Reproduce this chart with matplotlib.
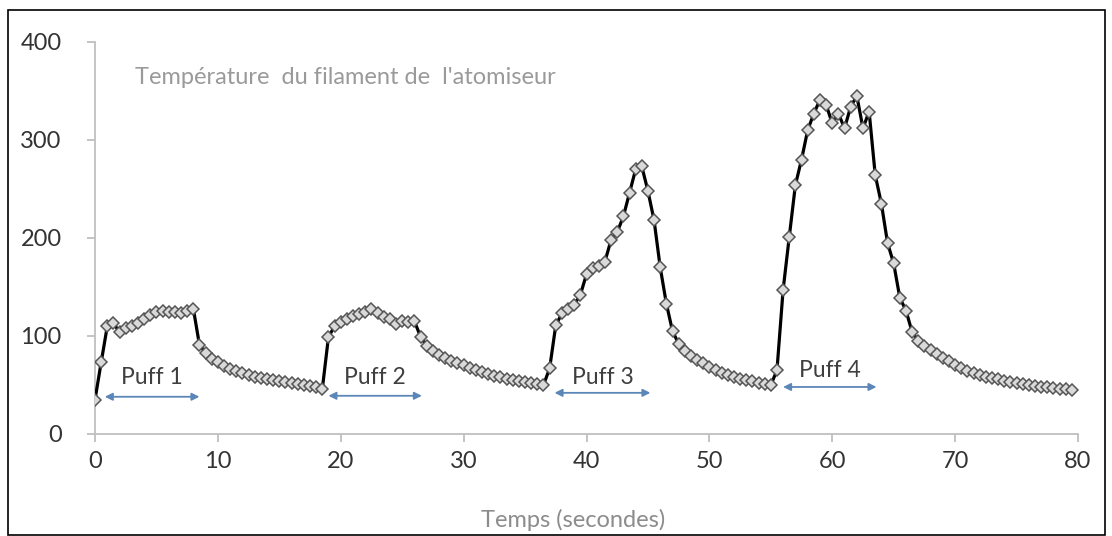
import numpy as np
import matplotlib
matplotlib.use("Agg")
import matplotlib.pyplot as plt
from matplotlib.patches import Rectangle

# filament temperature, one reading every 0.5 s (one row = 5 s)
temperature = [
    35, 73, 110, 113, 104, 108, 110, 113, 117, 121,
    124, 126, 124, 125, 123, 126, 128, 91, 83, 77,
    73, 69, 66, 64, 62, 60, 58, 57, 56, 55,
    54, 53, 52, 51, 50, 49, 48, 46, 99, 110,
    114, 117, 120, 122, 125, 128, 123, 119, 117, 112,
    115, 114, 115, 99, 90, 85, 81, 78, 75, 72,
    70, 67, 65, 63, 61, 59, 58, 56, 55, 54,
    53, 52, 51, 50, 67, 111, 123, 128, 132, 142,
    163, 169, 171, 176, 198, 206, 222, 246, 270, 273,
    248, 218, 170, 133, 105, 92, 85, 80, 76, 72,
    68, 65, 62, 60, 58, 56, 55, 54, 52, 51,
    50, 65, 147, 201, 254, 280, 310, 327, 341, 336,
    317, 327, 312, 334, 345, 312, 329, 264, 235, 195,
    174, 139, 126, 104, 95, 90, 86, 82, 78, 74,
    70, 67, 64, 62, 60, 58, 57, 56, 54, 53,
    52, 51, 50, 49, 48, 48, 47, 46, 46, 45,
]
time_s = np.arange(len(temperature)) * 0.5

puff_labels = ["Puff 1", "Puff 2", "Puff 3", "Puff 4"]
puff_start = [0.8, 19.0, 37.4, 56.0]
puff_end = [8.5, 26.6, 45.2, 63.6]
arrow_y = [38, 39, 42, 48]
label_y = [58, 58, 58, 65]

plt.rcParams['font.family'] = ['Lato', 'DejaVu Sans']

fig = plt.figure(figsize=(11.12, 5.36), dpi=100)
ax = fig.add_axes([95/1112, 1 - 434/536, 983/1112, 392/536])

ax.plot(time_s, temperature, color='black', lw=2.3, marker='D', markersize=6.3,
        markerfacecolor='#d9d9d9', markeredgecolor='#555555', markeredgewidth=1.1,
        zorder=3)

# puff arrows + labels
for lab, s, e, ya, yl in zip(puff_labels, puff_start, puff_end, arrow_y, label_y):
    ax.annotate('', xy=(s, ya), xytext=(e, ya),
                arrowprops=dict(arrowstyle='<|-|>', color='#5b86b8', lw=1.3,
                                mutation_scale=11, shrinkA=0, shrinkB=0))
    ax.text((s + e) / 2, yl, lab, ha='center', va='center', fontsize=16.5,
            color='#3f3f3f')

ax.set_xlim(0, 80)
ax.set_ylim(0, 400)
ax.set_xticks(range(0, 81, 10))
ax.set_yticks(range(0, 401, 100))
for side in ['top', 'right']:
    ax.spines[side].set_visible(False)
for side in ['left', 'bottom']:
    ax.spines[side].set_color('#bfbfbf')
    ax.spines[side].set_linewidth(1.3)
ax.tick_params(axis='both', colors='#bfbfbf', length=6, width=1.3,
               labelcolor='#333333', labelsize=17)
ax.tick_params(axis='y', pad=18)
ax.tick_params(axis='x', pad=6)

fig.text(135/1112, 1 - 78/536, "Température  du filament de  l'atomiseur",
         fontsize=17, color='#9a9a9a', va='center', ha='left')
fig.text(573/1112, 1 - 520/536, "Temps (secondes)", fontsize=17,
         color='#8c8c8c', ha='center', va='center')

# outer frame
fig.patches.append(Rectangle((8/1112, 1 - 535/536), 1097/1112, 525/536,
                             transform=fig.transFigure, fill=False,
                             edgecolor='black', lw=1.2))

fig.savefig('out.png', dpi=100)
